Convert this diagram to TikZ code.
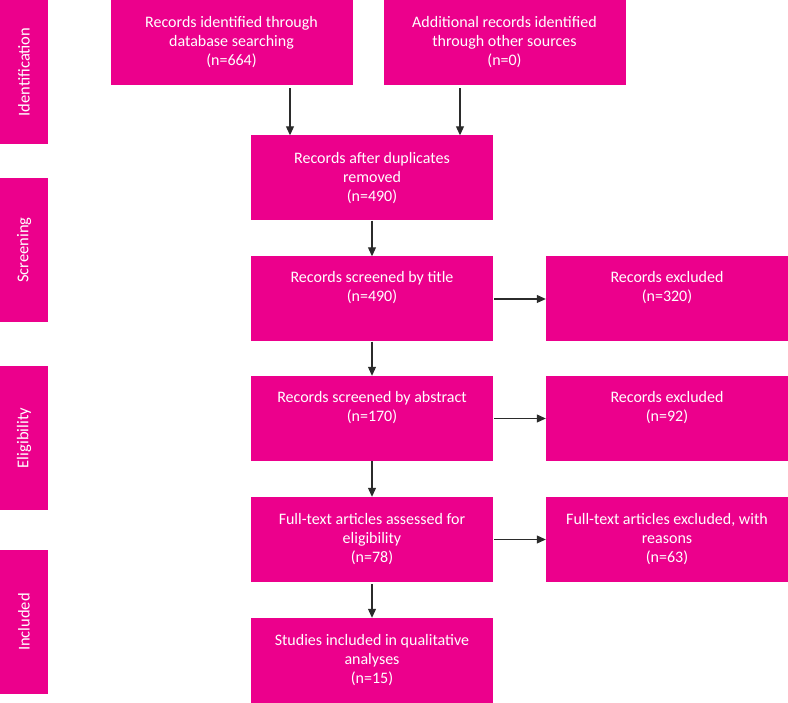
\documentclass[tikz,border=0pt]{standalone}
\usepackage{fontspec}
\setmainfont{Carlito}
\usetikzlibrary{arrows.meta}
\definecolor{prismapink}{HTML}{EC008C}
\definecolor{arrowgray}{HTML}{2B2B2B}

\begin{document}
\begin{tikzpicture}[x=1pt, y=-1pt,
        box/.style={fill=prismapink, text=white, font=\fontsize{16}{19}\selectfont,
            align=center, inner sep=0pt, minimum width=242pt, minimum height=85pt},
        phase/.style={fill=prismapink, text=white, font=\fontsize{16.5}{19}\selectfont,
            rotate=90, inner sep=0pt, minimum width=144pt, minimum height=48pt},
        flow/.style={arrowgray, line width=1.1pt, -{Triangle[length=9pt, width=8pt]}}]
        \useasboundingbox (0,0) rectangle (788,703);

        % Phase labels on the left
        \node[phase] (ident) at (24,72) {Identification};
        \node[phase] (screen) at (24,250) {Screening};
        \node[phase] (elig) at (24,438) {Eligibility};
        \node[phase] (incl) at (24,622) {Included};

        % Identification boxes
        \node[box] (db) at (231.5,42.5) {Records identified through\\database searching\\(n=664)};
        \node[box] (other) at (504.5,42.5) {Additional records identified\\through other sources\\(n=0)};

        % Main column
        \node[box] (dup) at (372,178) {Records after duplicates\\removed\\(n=490)};
        \node[box] (title) at (372,299) {Records screened by title\\(n=490)\\\strut};
        \node[box] (abstract) at (372,418.5) {Records screened by abstract\\(n=170)\\\strut};
        \node[box] (full) at (372,539.5) {Full-text articles assessed for\\eligibility\\(n=78)};
        \node[box] (studies) at (372,660.5) {Studies included in qualitative\\analyses\\(n=15)};

        % Exclusion boxes
        \node[box] (excl1) at (667,299) {Records excluded\\(n=320)\\\strut};
        \node[box] (excl2) at (667,418.5) {Records excluded\\(n=92)\\\strut};
        \node[box] (excl3) at (667,539.5) {Full-text articles excluded, with\\reasons\\(n=63)};

        % Arrows
        \coordinate (left) at (290,0);
        \coordinate (right) at (460,0);
        \draw[flow, shorten <=3pt] (db.south -| left) -- (dup.north -| left);
        \draw[flow, shorten <=3pt] (other.south -| right) -- (dup.north -| right);
        \draw[flow] (dup) -- (title);
        \draw[flow] (title) -- (abstract);
        \draw[flow] (abstract) -- (full);
        \draw[flow, shorten <=2pt] (full) -- (studies);
        \draw[flow, shorten <=1pt] (title) -- (excl1);
        \draw[flow, shorten <=1pt] (abstract) -- (excl2);
        \draw[flow, shorten <=1pt] (full) -- (excl3);
    \end{tikzpicture}
\end{document}
